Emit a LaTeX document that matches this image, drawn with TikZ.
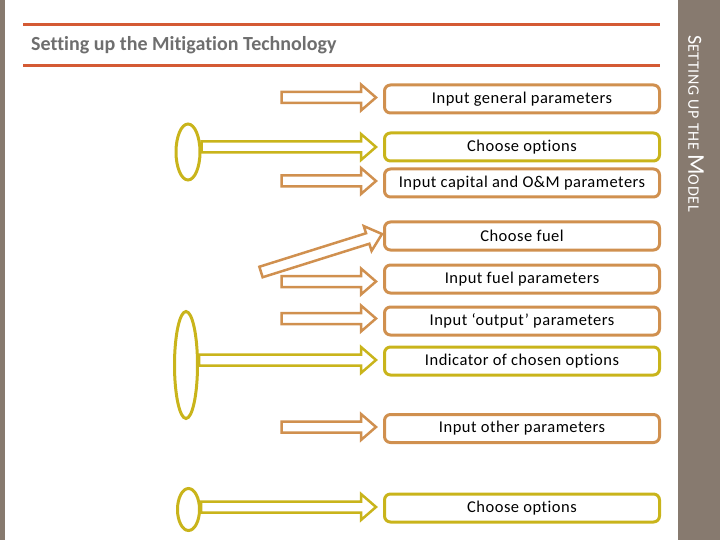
\documentclass[tikz,border=0pt]{standalone}
\usepackage{fontspec}
\setmainfont{Carlito}[Ligatures=NoCommon]
\usetikzlibrary{calc,shapes.geometric}
\definecolor{orng}{HTML}{D0904F}
\definecolor{ylw}{HTML}{C9B41B}
\definecolor{redl}{HTML}{D45A34}
\definecolor{barg}{HTML}{877A6F}
\definecolor{ttl}{HTML}{6E6E6E}
\newfontfamily\boxfont{Carlito}[Ligatures=NoCommon, LetterSpace=3]
\newfontfamily\sidefont{Carlito}[Ligatures=NoCommon, LetterSpace=4]
\newcommand\blockarrow[3]{%
  \coordinate (ba-h) at ($(#3)!15pt!(#2)$);
  \draw[#1] ($(#2)!5.5pt!90:(#3)$) -- ($(ba-h)!5.5pt!-90:(#2)$) -- ($(ba-h)!13pt!-90:(#2)$) -- (#3)
    -- ($(ba-h)!13pt!90:(#2)$) -- ($(ba-h)!5.5pt!90:(#2)$) -- ($(#2)!5.5pt!-90:(#3)$) -- cycle;}
\tikzset{
  box/.style={draw, rounded corners=6pt, line width=3pt, minimum width=275pt, minimum height=28pt,
    inner sep=0pt, font=\boxfont\fontsize{16.5}{18}\selectfont, text=black},
  obox/.style={box, draw=orng},
  ybox/.style={box, draw=ylw},
  oarrow/.style={draw=orng, line width=2.5pt, line join=miter},
  yarrow/.style={draw=ylw, line width=2.5pt, line join=miter},
  oval/.style={draw=ylw, ellipse, line width=3pt, inner sep=0pt},
}
\begin{document}
\begin{tikzpicture}[x=1pt,y=-1pt]
\useasboundingbox (0,0) rectangle (720,540);
\fill[barg] (0,0) rectangle (5,540);
\fill[barg] (678,0) rectangle (720,540);
\coordinate (r1a) at (23,24.5); \coordinate (r1b) at (660,24.5);
\coordinate (r2a) at (23,66); \coordinate (r2b) at (660,66);
\draw[redl, line width=3pt] (r1a) -- (r1b);
\draw[redl, line width=3pt] (r2a) -- (r2b);
\node[anchor=west, text=ttl, font=\fontsize{20}{22}\bfseries, inner sep=0pt] (title) at (31,45.5) {Setting up the Mitigation Technology};
\node[rotate=-90, anchor=west, text=white, inner sep=0pt] (side) at (696,35)
  {\sidefont\fontsize{20}{22}\selectfont S\fontsize{16}{18}\selectfont ETTING UP THE \fontsize{24}{26}\selectfont M\fontsize{16}{18}\selectfont ODEL};
% boxes
\node[obox] (b1) at (522,99) {Input general parameters};
\node[ybox] (b2) at (522,147) {Choose options};
\node[obox] (b3) at (522,183) {Input capital and O\&M parameters};
\node[obox] (b4) at (522,236) {Choose fuel};
\node[obox] (b5) at (522,279) {Input fuel parameters};
\node[obox] (b6) at (522,321) {Input ‘output’ parameters};
\node[ybox] (b7) at (522,361) {Indicator of chosen options};
\node[obox] (b8) at (522,428.5) {Input other parameters};
\node[ybox] (b9) at (522,508) {Choose options};
% ovals
\node[oval, minimum width=24pt, minimum height=56pt] (e1) at (188,152) {};
\node[oval, minimum width=23pt, minimum height=107pt] (e2) at (186,365) {};
\node[oval, minimum width=22pt, minimum height=42pt] (e3) at (188.5,509.5) {};
% arrow ends
\coordinate (t1) at (376,97.5);  \coordinate (s1) at (281.5,97.5);
\coordinate (t2) at (376,147);   \coordinate (s2) at (e1.east |- t2);
\coordinate (t3) at (376,181);   \coordinate (s3) at (281.5,181);
\coordinate (t4) at (382,234);   \coordinate (s4) at (261,272);
\coordinate (t5) at (376,281.5); \coordinate (s5) at (281.5,281.5);
\coordinate (t6) at (376,318.5); \coordinate (s6) at (281.5,318.5);
\coordinate (t7) at (376,360);   \coordinate (s7) at (e2.east |- t7);
\coordinate (t8) at (376,427);   \coordinate (s8) at (281.5,427);
\coordinate (t9) at (376,507);   \coordinate (s9) at (e3.east |- t9);
\blockarrow{oarrow}{s1}{t1}
\blockarrow{yarrow}{s2}{t2}
\blockarrow{oarrow}{s3}{t3}
\blockarrow{oarrow}{s4}{t4}
\blockarrow{oarrow}{s5}{t5}
\blockarrow{oarrow}{s6}{t6}
\blockarrow{yarrow}{s7}{t7}
\blockarrow{oarrow}{s8}{t8}
\blockarrow{yarrow}{s9}{t9}
\end{tikzpicture}
\end{document}
